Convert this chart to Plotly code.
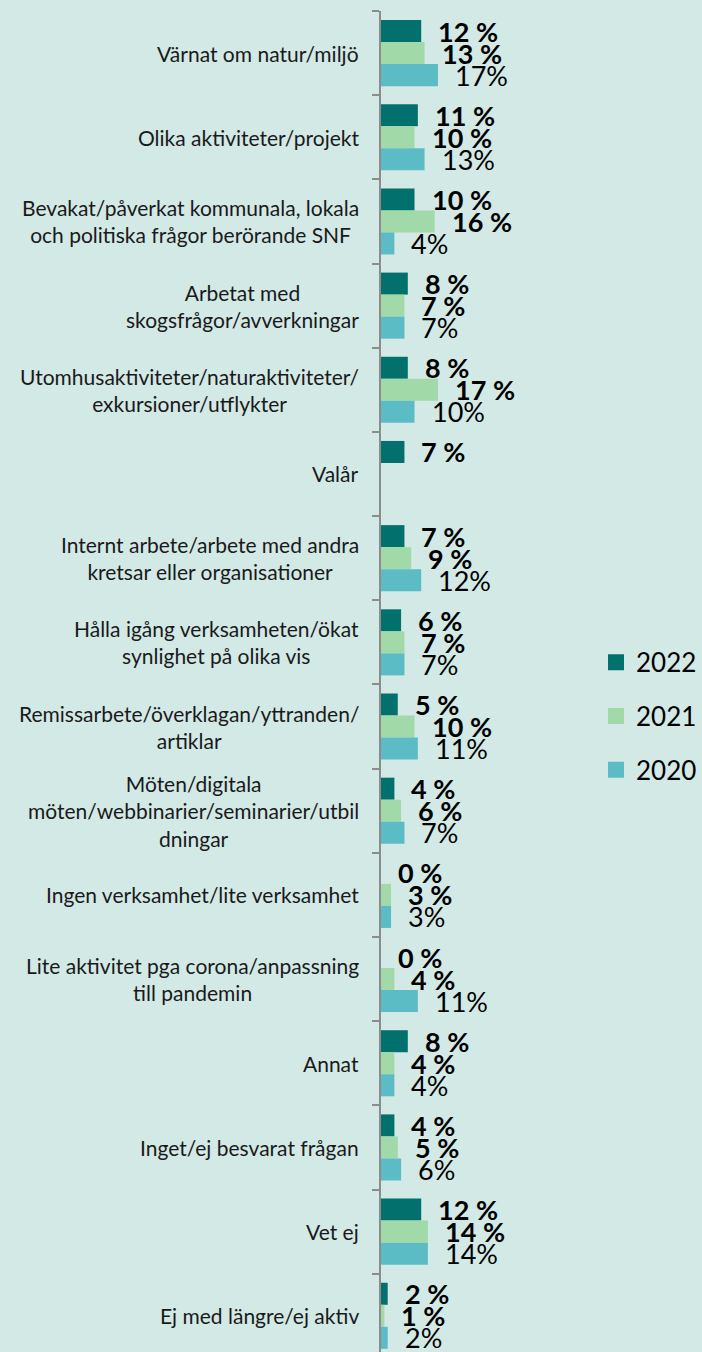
import plotly.graph_objects as go

categories = [
    "Värnat om natur/miljö",
    "Olika aktiviteter/projekt",
    "Bevakat/påverkat kommunala, lokala<br>och politiska frågor berörande SNF",
    "Arbetat med<br>skogsfrågor/avverkningar",
    "Utomhusaktiviteter/naturaktiviteter/<br>exkursioner/utflykter",
    "Valår",
    "Internt arbete/arbete med andra<br>kretsar eller organisationer",
    "Hålla igång verksamheten/ökat<br>synlighet på olika vis",
    "Remissarbete/överklagan/yttranden/<br>artiklar",
    "Möten/digitala<br>möten/webbinarier/seminarier/utbil<br>dningar",
    "Ingen verksamhet/lite verksamhet",
    "Lite aktivitet pga corona/anpassning<br>till pandemin",
    "Annat",
    "Inget/ej besvarat frågan",
    "Vet ej",
    "Ej med längre/ej aktiv",
]
v2022 = [12, 11, 10, 8, 8, 7, 7, 6, 5, 4, 0, 0, 8, 4, 12, 2]
v2021 = [13, 10, 16, 7, 17, None, 9, 7, 10, 6, 3, 4, 4, 5, 14, 1]
v2020 = [17, 13, 4, 7, 10, None, 12, 7, 11, 7, 3, 11, 4, 6, 14, 2]
series_names = ["2022", "2021", "2020"]

colors = ["#02706c", "#a1d9a9", "#5bbcc5"]
BG = "#d2e9e6"
FONT = "Lato"

W, H = 702, 1352
ML, MT = 381, 11
PW = 201
XR = 60

fig = go.Figure()
series = [v2022, v2021, v2020]
for name, vals, col in zip(series_names, series, colors):
    fig.add_trace(go.Bar(
        y=categories, x=vals, orientation="h", name=name,
        marker=dict(color=col, line=dict(width=0)),
        showlegend=False, hoverinfo="x+name",
    ))
    # legend proxies
    fig.add_trace(go.Scatter(
        x=[None], y=[None], mode="markers", name=name,
        marker=dict(symbol="square", size=18, color=col),
        legendgroup=name, showlegend=True,
    ))

annotations = []
# category labels
for c in categories:
    annotations.append(dict(
        x=0, y=c, xref="x", yref="y", text=c, showarrow=False,
        xanchor="right", yanchor="middle", align="center", xshift=-20,
        font=dict(family=FONT, size=21, color="#1a1a1a"),
    ))

# value labels
band = (H - MT) / (15.43 + 0.5)
bar_h = band * (1 - 0.215) / 3
shifts = [bar_h, 0, -bar_h]
for i, vals in enumerate(series):
    for c, v in zip(categories, vals):
        if v is None:
            continue
        if i < 2:
            txt = f"<b>{v} %</b>"
        else:
            txt = f"{v}%"
        annotations.append(dict(
            x=v, y=c, xref="x", yref="y", text=txt, showarrow=False,
            xanchor="left", yanchor="middle", xshift=15, yshift=shifts[i],
            font=dict(family=FONT, size=27, color="#000000"),
        ))

fig.update_layout(
    width=W, height=H,
    margin=dict(l=ML, r=W - ML - PW, t=MT, b=0, pad=0),
    paper_bgcolor=BG, plot_bgcolor=BG,
    barmode="group", bargap=0.215, bargroupgap=0,
    showlegend=True,
    legend=dict(
        x=(596 - ML) / PW, y=0.474, xanchor="left", yanchor="middle",
        font=dict(family=FONT, size=26, color="#000000"),
        traceorder="grouped", tracegroupgap=17, bgcolor="rgba(0,0,0,0)",
        itemwidth=30,
    ),
    annotations=annotations,
    xaxis=dict(visible=False, range=[0, XR], fixedrange=True),
    yaxis=dict(
        type="category", categoryorder="array", categoryarray=categories,
        range=[15.43, -0.5], showticklabels=False, showgrid=False,
        zeroline=False, showline=True, linecolor="#8c8c8c", linewidth=2,
        ticks="outside", tickson="boundaries", ticklen=7, tickwidth=2,
        tickcolor="#8c8c8c", fixedrange=True,
    ),
    font=dict(family=FONT),
)

fig.write_html(
    "out.html",
    config={"displayModeBar": False},
    post_script="document.body.style.margin='0';document.body.style.overflow='hidden';",
)
